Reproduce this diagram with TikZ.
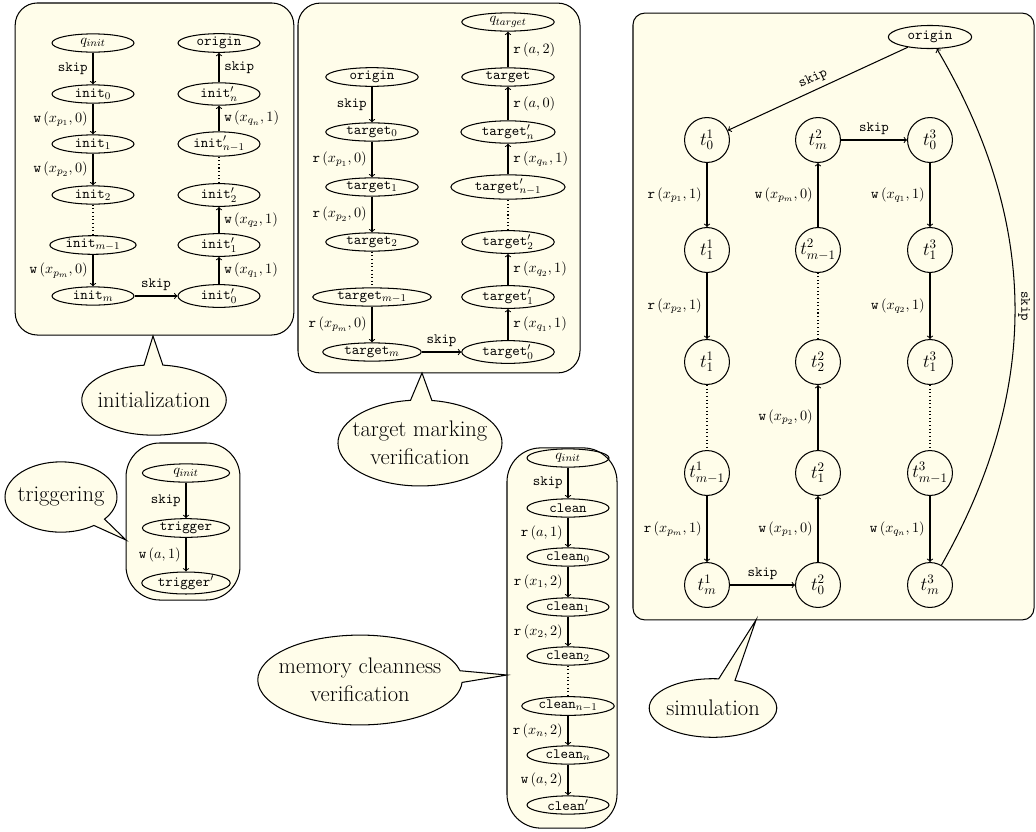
\documentclass[tikz,border=0pt,11pt]{standalone}
\usepackage{amsmath}
\usepackage{xcolor}
\usepackage{tikz}
\usetikzlibrary{shapes,shapes.callouts,arrows,positioning,calc}
\definecolor{boxbg}{RGB}{255,253,234}
\newcommand{\opr}[1]{\texttt{r}\,$(#1)$}
\newcommand{\opw}[1]{\texttt{w}\,$(#1)$}
\newcommand{\skp}{\texttt{skip}}

\begin{document}
\begin{tikzpicture}[x=0.027cm, y=-0.027cm,
    state/.style={draw, thick, ellipse, minimum width=63pt, minimum height=14pt, inner xsep=2.5pt, inner ysep=0.5pt},
    tstate/.style={state, minimum width=71pt, inner xsep=5.5pt},
    sim/.style={draw, thick, circle, minimum size=34.5pt, inner sep=0pt, font=\Large},
    group/.style={draw, thick, fill=boxbg, rounded corners=#1},
    group/.default=17pt,
    bubble/.style={draw, thick, fill=boxbg, ellipse callout, inner xsep=-30pt, inner ysep=-15pt, font=\fontsize{17.3}{21.5}\selectfont, align=center},
    arrow/.style={->, thick},
    dots/.style={dotted, thick}
]
    \useasboundingbox (0,0) rectangle (1036,831);

    % Boxes
    \node[group, minimum width=214pt, minimum height=255pt] (initbox) at (154.5,169) {};
    \node[group, minimum width=216.6pt, minimum height=284pt] (targetbox) at (439,188) {};
    \node[group=26pt, minimum width=87.5pt, minimum height=120.6pt] (trigbox) at (183,521.5) {};
    \node[group=26pt, minimum width=84.5pt, minimum height=292pt] (cleanbox) at (562,638) {};
    \node[group=9pt, minimum width=308pt, minimum height=466pt] (simbox) at (833.5,316.5) {};

    % Callouts
    \node[bubble, minimum width=111pt, minimum height=54pt, callout absolute pointer={(153,336)}] (initcall) at (154,400) {initialization};
    \node[bubble, minimum width=86pt, minimum height=54pt, callout absolute pointer={(126,540)}] (trigcall) at (61,497) {triggering};
    \node[bubble, minimum width=126pt, minimum height=66pt, callout absolute pointer={(422,373)}] (targetcall) at (420,443) {target marking\\verification};
    \node[bubble, minimum width=157pt, minimum height=69pt, callout absolute pointer={(507,675)}] (cleancall) at (360,680) {memory cleanness\\verification};
    \node[bubble, minimum width=98pt, minimum height=45pt, callout absolute pointer={(756,620)}] (simcall) at (713,708) {simulation};

    % Initialization
    \node[state] (qinit) at (93,43) {$q_{init}$};
    \node[state] (init0) at (93,94) {\texttt{init}$_0$};
    \node[state] (init1) at (93,144) {\texttt{init}$_1$};
    \node[state] (init2) at (93,195) {\texttt{init}$_2$};
    \node[state] (initm1) at (93,245) {\texttt{init}$_{m-1}$};
    \node[state] (initm) at (93,296) {\texttt{init}$_m$};
    \node[state] (originA) at (219,43) {\texttt{origin}};
    \node[state] (initpn) at (219,94) {\texttt{init}$'_n$};
    \node[state] (initpn1) at (219,144) {\texttt{init}$'_{n-1}$};
    \node[state] (initp2) at (219,195) {\texttt{init}$'_2$};
    \node[state] (initp1) at (219,245) {\texttt{init}$'_1$};
    \node[state] (initp0) at (219,296) {\texttt{init}$'_0$};

    \draw[arrow] (qinit) -- node[left] {\skp} (init0);
    \draw[arrow] (init0) -- node[left] {\opw{x_{p_1},0}} (init1);
    \draw[arrow] (init1) -- node[left] {\opw{x_{p_2},0}} (init2);
    \draw[dots] (init2) -- (initm1);
    \draw[arrow] (initm1) -- node[left] {\opw{x_{p_m},0}} (initm);
    \draw[arrow] (initm) -- node[above] {\skp} (initp0);
    \draw[arrow] (initp0) -- node[right] {\opw{x_{q_1},1}} (initp1);
    \draw[arrow] (initp1) -- node[right] {\opw{x_{q_2},1}} (initp2);
    \draw[dots] (initp2) -- (initpn1);
    \draw[arrow] (initpn1) -- node[right] {\opw{x_{q_n},1}} (initpn);
    \draw[arrow] (initpn) -- node[right] {\skp} (originA);

    % Target marking verification
    \node[tstate] (originB) at (372,77) {\texttt{origin}};
    \node[tstate] (tgt0) at (372,132) {\texttt{target}$_0$};
    \node[tstate] (tgt1) at (372,187) {\texttt{target}$_1$};
    \node[tstate] (tgt2) at (372,242) {\texttt{target}$_2$};
    \node[tstate] (tgtm1) at (372,297) {\texttt{target}$_{m-1}$};
    \node[tstate] (tgtm) at (372,352) {\texttt{target}$_m$};
    \node[tstate] (qtgt) at (508,22) {$q_{target}$};
    \node[tstate] (tgt) at (508,77) {\texttt{target}};
    \node[tstate] (tgtpn) at (508,132) {\texttt{target}$'_n$};
    \node[tstate] (tgtpn1) at (508,187) {\texttt{target}$'_{n-1}$};
    \node[tstate] (tgtp2) at (508,242) {\texttt{target}$'_2$};
    \node[tstate] (tgtp1) at (508,297) {\texttt{target}$'_1$};
    \node[tstate] (tgtp0) at (508,352) {\texttt{target}$'_0$};

    \draw[arrow] (originB) -- node[left] {\skp} (tgt0);
    \draw[arrow] (tgt0) -- node[left] {\opr{x_{p_1},0}} (tgt1);
    \draw[arrow] (tgt1) -- node[left] {\opr{x_{p_2},0}} (tgt2);
    \draw[dots] (tgt2) -- (tgtm1);
    \draw[arrow] (tgtm1) -- node[left] {\opr{x_{p_m},0}} (tgtm);
    \draw[arrow] (tgtm) -- node[above] {\skp} (tgtp0);
    \draw[arrow] (tgtp0) -- node[right] {\opr{x_{q_1},1}} (tgtp1);
    \draw[arrow] (tgtp1) -- node[right] {\opr{x_{q_2},1}} (tgtp2);
    \draw[dots] (tgtp2) -- (tgtpn1);
    \draw[arrow] (tgtpn1) -- node[right] {\opr{x_{q_n},1}} (tgtpn);
    \draw[arrow] (tgtpn) -- node[right] {\opr{a,0}} (tgt);
    \draw[arrow] (tgt) -- node[right] {\opr{a,2}} (qtgt);

    % Triggering
    \node[state, minimum width=67pt] (qinitT) at (186,473) {$q_{init}$};
    \node[state, minimum width=67pt] (trig) at (186,528) {\texttt{trigger}};
    \node[state, minimum width=67pt] (trigp) at (186,583) {\texttt{trigger}$'$};

    \draw[arrow] (qinitT) -- node[left] {\skp} (trig);
    \draw[arrow] (trig) -- node[left] {\opw{a,1}} (trigp);

    % Memory cleanness verification
    \node[state] (qinitC) at (568,458) {$q_{init}$};
    \node[state] (clean) at (568,508) {\texttt{clean}};
    \node[state] (clean0) at (568,557) {\texttt{clean}$_0$};
    \node[state] (clean1) at (568,607) {\texttt{clean}$_1$};
    \node[state] (clean2) at (568,656) {\texttt{clean}$_2$};
    \node[state] (cleann1) at (568,706) {\texttt{clean}$_{n-1}$};
    \node[state] (cleann) at (568,755) {\texttt{clean}$_n$};
    \node[state] (cleanp) at (568,805) {\texttt{clean}$'$};

    \draw[arrow] (qinitC) -- node[left] {\skp} (clean);
    \draw[arrow] (clean) -- node[left] {\opr{a,1}} (clean0);
    \draw[arrow] (clean0) -- node[left] {\opr{x_1,2}} (clean1);
    \draw[arrow] (clean1) -- node[left] {\opr{x_2,2}} (clean2);
    \draw[dots] (clean2) -- (cleann1);
    \draw[arrow] (cleann1) -- node[left] {\opr{x_n,2}} (cleann);
    \draw[arrow] (cleann) -- node[left] {\opw{a,2}} (cleanp);

    % Simulation
    \node[state, minimum width=64pt, minimum height=17.7pt] (originS) at (930,37) {\texttt{origin}};
    \node[sim] (t10) at (707,140) {$t^1_0$};
    \node[sim] (t11) at (707,250) {$t^1_1$};
    \node[sim] (t11b) at (707,362) {$t^1_1$};
    \node[sim] (t1m1) at (707,473) {$t^1_{m-1}$};
    \node[sim] (t1m) at (707,585) {$t^1_m$};
    \node[sim] (t20) at (818,585) {$t^2_0$};
    \node[sim] (t21) at (818,473) {$t^2_1$};
    \node[sim] (t22) at (818,362) {$t^2_2$};
    \node[sim] (t2m1) at (818,250) {$t^2_{m-1}$};
    \node[sim] (t2m) at (818,140) {$t^2_m$};
    \node[sim] (t30) at (930,140) {$t^3_0$};
    \node[sim] (t31) at (930,250) {$t^3_1$};
    \node[sim] (t31b) at (930,362) {$t^3_1$};
    \node[sim] (t3m1) at (930,473) {$t^3_{m-1}$};
    \node[sim] (t3m) at (930,585) {$t^3_m$};

    \draw[arrow] (originS) -- node[midway, sloped, above] {\skp} (t10);
    \draw[arrow] (t10) -- node[left] {\opr{x_{p_1},1}} (t11);
    \draw[arrow] (t11) -- node[left] {\opr{x_{p_2},1}} (t11b);
    \draw[dots] (t11b) -- (t1m1);
    \draw[arrow] (t1m1) -- node[left] {\opr{x_{p_m},1}} (t1m);
    \draw[arrow] (t1m) -- node[above] {\skp} (t20);
    \draw[arrow] (t20) -- node[left] {\opw{x_{p_1},0}} (t21);
    \draw[arrow] (t21) -- node[left] {\opw{x_{p_2},0}} (t22);
    \draw[dots] (t22) -- (t2m1);
    \draw[arrow] (t2m1) -- node[left] {\opw{x_{p_m},0}} (t2m);
    \draw[arrow] (t2m) -- node[above] {\skp} (t30);
    \draw[arrow] (t30) -- node[left] {\opw{x_{q_1},1}} (t31);
    \draw[arrow] (t31) -- node[left] {\opw{x_{q_2},1}} (t31b);
    \draw[dots] (t31b) -- (t3m1);
    \draw[arrow] (t3m1) -- node[left] {\opw{x_{q_n},1}} (t3m);
    \draw[arrow] (t3m) to[bend right=30] node[midway, anchor=south, rotate=-90, inner sep=2pt] {\skp} (originS);
\end{tikzpicture}
\end{document}
